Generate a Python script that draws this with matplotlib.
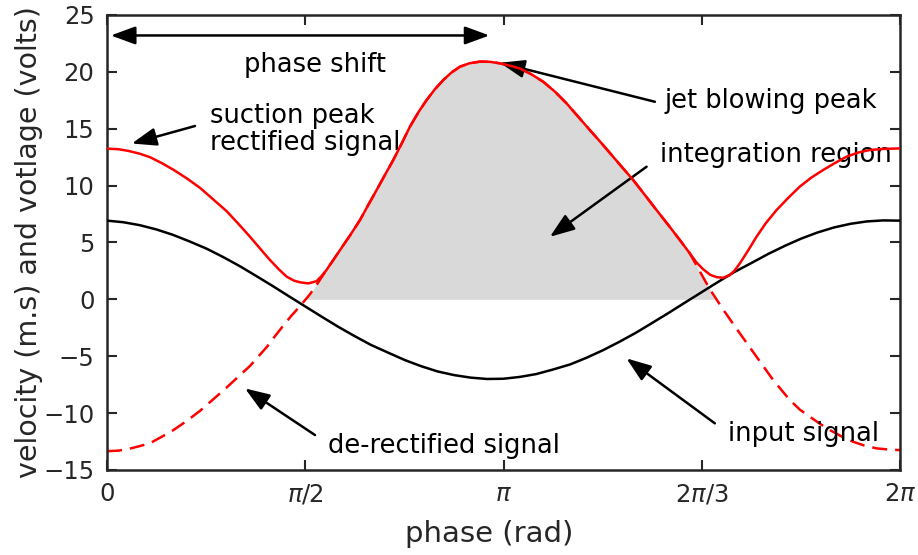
import numpy as np
import matplotlib
matplotlib.use("Agg")
import matplotlib.pyplot as plt

# input signal (black)
phase_input = [0.00, 0.13, 0.26, 0.39, 0.52, 0.65, 0.79, 0.92, 1.05, 1.18, 1.31, 1.44, 1.57,
               1.70, 1.83, 1.96, 2.09, 2.23, 2.36, 2.49, 2.62, 2.75, 2.88, 3.01, 3.14,
               3.27, 3.40, 3.53, 3.67, 3.80, 3.93, 4.06, 4.19, 4.32, 4.45, 4.58, 4.71,
               4.84, 4.97, 5.11, 5.24, 5.37, 5.50, 5.63, 5.76, 5.89, 6.02, 6.15, 6.28]
input_sig = [6.92, 6.78, 6.52, 6.15, 5.68, 5.11, 4.45, 3.72, 2.93, 2.07, 1.19, 0.28, -0.62,
             -1.52, -2.40, -3.22, -4.00, -4.70, -5.34, -5.88, -6.34, -6.66, -6.88, -7.00, -6.98,
             -6.82, -6.57, -6.18, -5.72, -5.13, -4.47, -3.73, -2.94, -2.07, -1.19, -0.28, 0.62,
             1.52, 2.40, 3.22, 4.00, 4.70, 5.34, 5.88, 6.32, 6.64, 6.85, 6.94, 6.92]

# jet blowing hump, shared by rectified and de-rectified signals
phase_hump = [1.74, 1.846, 1.93, 2.004, 2.07, 2.136, 2.20, 2.268, 2.33, 2.40, 2.47, 2.532,
              2.60, 2.664, 2.73, 2.796, 2.87, 2.955, 3.035, 3.113, 3.19, 3.27, 3.36, 3.456,
              3.55, 3.641, 3.73, 3.826, 3.92, 4.01, 4.09, 4.169, 4.26, 4.354, 4.45, 4.539, 4.618]
hump = [2.6, 4.33, 5.7, 6.97, 8.3, 9.61, 10.9, 12.25, 13.6, 15.18, 16.5, 17.52,
        18.5, 19.28, 19.95, 20.45, 20.75, 20.9, 20.88, 20.75, 20.55, 20.3, 19.8, 19.13,
        18.25, 17.23, 16.1, 14.88, 13.7, 12.54, 11.5, 10.49, 9.2, 7.85, 6.5, 5.21, 4.04]

# rectified signal, suction side (solid red)
phase_rect_l = [0.00, 0.09, 0.17, 0.26, 0.34, 0.43, 0.525, 0.63, 0.737, 0.84, 0.948, 1.04,
                1.133, 1.21, 1.291, 1.36, 1.423, 1.48, 1.529, 1.594, 1.66, 1.70]
rect_l = [13.25, 13.2, 13.05, 12.8, 12.5, 12.0, 11.4, 10.65, 9.8, 8.8, 7.75, 6.65,
          5.5, 4.5, 3.46, 2.65, 2.0, 1.65, 1.5, 1.4, 1.6, 2.05]
phase_rect_r = [4.67, 4.723, 4.78, 4.83, 4.88, 4.93, 4.97, 5.014, 5.08, 5.146, 5.22, 5.305,
                5.40, 5.489, 5.58, 5.674, 5.77, 5.859, 5.95, 6.044, 6.16, 6.283]
rect_r = [3.25, 2.65, 2.15, 1.95, 1.9, 2.1, 2.5, 3.16, 4.3, 5.5, 6.7, 7.85,
          8.95, 9.91, 10.7, 11.37, 12.0, 12.54, 12.9, 13.13, 13.23, 13.27]

# de-rectified signal (dashed red)
phase_der_l = [0.00, 0.09, 0.17, 0.26, 0.34, 0.43, 0.525, 0.63, 0.737, 0.84, 0.948, 1.04,
               1.133, 1.265, 1.33, 1.397, 1.46, 1.529, 1.608, 1.68]
der_l = [-13.35, -13.3, -13.15, -12.9, -12.65, -12.1, -11.5, -10.7, -9.8, -8.8, -7.75, -6.8,
         -5.85, -4.2, -3.25, -2.3, -1.45, -0.6, 0.45, 1.6]
phase_der_r = [4.70, 4.776, 4.882, 5.014, 5.146, 5.278, 5.41, 5.49, 5.569, 5.65, 5.727,
               5.82, 5.912, 6.0, 6.097, 6.19, 6.283]
der_r = [2.4, 0.9, -0.9, -2.99, -5.04, -7.09, -8.85, -9.7, -10.32, -10.95, -11.49,
         -12.05, -12.52, -12.85, -13.1, -13.2, -13.25]

xtick_labels = ["0", r"$\pi$/2", r"$\pi$", r"2$\pi$/3", r"2$\pi$"]

red_x = np.array(phase_rect_l + phase_hump + phase_rect_r)
red_y = np.array(rect_l + hump + rect_r)
der_x = np.array(phase_der_l + phase_hump + phase_der_r)
der_y = np.array(der_l + hump + der_r)

fig = plt.figure(figsize=(9.18, 5.55), dpi=100)
ax = fig.add_axes([0.1166, 0.1532, 0.8638, 0.8198])

dark = "#262626"
ax.fill_between(der_x, der_y, 0, where=der_y >= 0, interpolate=True,
                color="#d9d9d9", lw=0, zorder=1)
ax.plot(der_x, der_y, color="red", lw=1.8, dashes=(6, 3.2), zorder=2)
ax.plot(phase_input, input_sig, color="black", lw=1.8, zorder=3)
ax.plot(red_x, red_y, color="red", lw=1.8, zorder=4)

ax.set_xlim(0, 2 * np.pi)
ax.set_ylim(-15, 25)
ax.set_xticks([0, np.pi / 2, np.pi, 3 * np.pi / 2, 2 * np.pi])
ax.set_xticklabels(xtick_labels)
ax.set_yticks(np.arange(-15, 26, 5))
ax.tick_params(direction="in", top=True, right=True, length=7, width=1.5,
               labelsize=17.5, colors=dark, pad=9)
for s in ax.spines.values():
    s.set_linewidth(1.8)
    s.set_color(dark)

ax.set_xlabel("phase (rad)", fontsize=21, color=dark, va="center")
ax.xaxis.set_label_coords(0.482, -0.14)
ax.set_ylabel("velocity (m.s) and votlage (volts)", fontsize=20.5, color=dark, va="center")
ax.yaxis.set_label_coords(-0.098, 0.5)

head = "head_length=1.5,head_width=0.55"
arr = dict(arrowstyle="-|>," + head, color="black", lw=1.8, shrinkA=0, shrinkB=0)
fs = 18.5

ax.annotate("", xy=(3.03, 23.2), xytext=(0.03, 23.2),
            arrowprops=dict(arrowstyle="<|-|>," + head, color="black",
                            lw=1.8, shrinkA=0, shrinkB=0), zorder=5)
ax.text(1.648, 20.6, "phase shift", fontsize=fs, ha="center", va="center")

ax.annotate("", xy=(0.196, 13.7), xytext=(0.697, 15.24), arrowprops=arr)
ax.text(0.816, 14.95, "suction peak\nrectified signal", fontsize=fs, ha="left",
        va="center", linespacing=1.08)

ax.annotate("", xy=(3.113, 20.8), xytext=(4.341, 17.37), arrowprops=arr)
ax.text(4.42, 17.4, "jet blowing peak", fontsize=fs, ha="left", va="center")

ax.annotate("", xy=(3.509, 5.5), xytext=(4.275, 11.66), arrowprops=arr)
ax.text(4.38, 12.7, "integration region", fontsize=fs, ha="left", va="center")

ax.annotate("", xy=(1.093, -7.83), xytext=(1.648, -11.93), arrowprops=arr)
ax.text(1.75, -12.85, "de-rectified signal", fontsize=fs, ha="left", va="center")

ax.annotate("", xy=(4.116, -5.19), xytext=(4.816, -10.9), arrowprops=arr)
ax.text(4.92, -11.85, "input signal", fontsize=fs, ha="left", va="center")

fig.savefig("out.png", dpi=100)
